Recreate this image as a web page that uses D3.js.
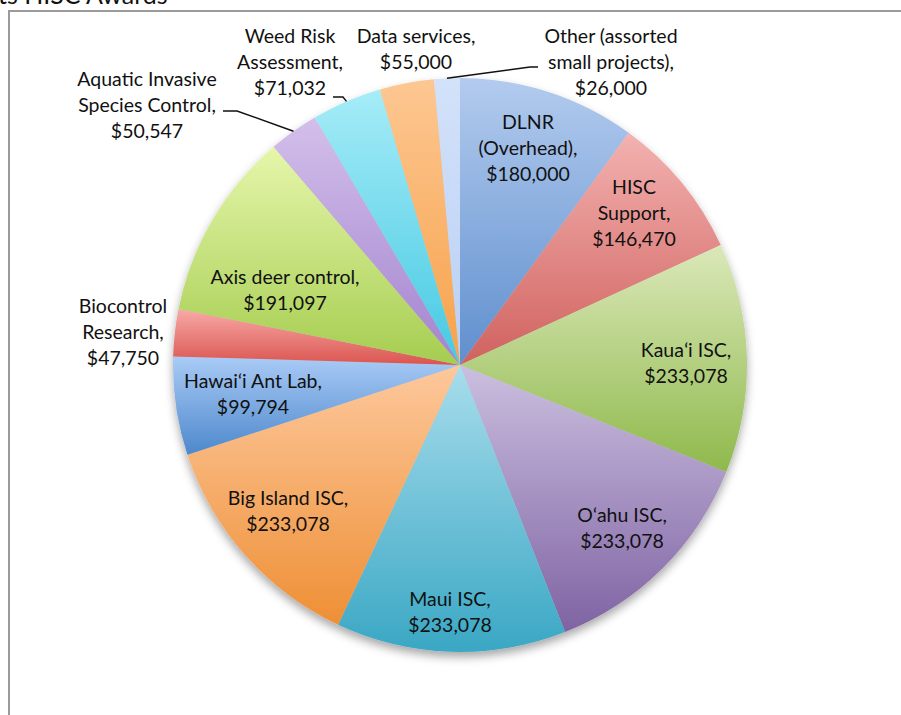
<!DOCTYPE html>
<html lang="en">
<head>
<meta charset="UTF-8">
<title>HISC Awards</title>
<style>
  body { margin: 0; background: #fff; overflow: hidden; }
  svg { display: block; }
  .label { font-family: Lato, "Noto Sans", sans-serif; font-size: 19.5px; fill: #111; }
  .title { font-family: Lato, "Noto Sans", sans-serif; font-size: 25px; fill: #111; }
  .leader { stroke: #111; stroke-width: 1.4; fill: none; }
</style>
</head>
<body>
<svg id="chart" width="901" height="715"></svg>
<script src="https://d3js.org/d3.v7.min.js"></script>
<script>
// slices, clockwise from 12 o'clock
const names = [
  "DLNR (Overhead)", "HISC Support", "Kaua\u02bbi ISC", "O\u02bbahu ISC", "Maui ISC",
  "Big Island ISC", "Hawai\u02bbi Ant Lab", "Biocontrol Research", "Axis deer control",
  "Aquatic Invasive Species Control", "Weed Risk Assessment", "Data services",
  "Other (assorted small projects)"
];
const amounts = [180000, 146470, 233078, 233078, 233078, 233078, 99794, 47750, 191097, 50547, 71032, 55000, 26000];
// label text lines as printed on the chart (last line is the amount)
const labelLines = [
  ["DLNR", "(Overhead),"], ["HISC", "Support,"], ["Kaua\u02bbi ISC,"], ["O\u02bbahu ISC,"], ["Maui ISC,"],
  ["Big Island ISC,"], ["Hawai\u02bbi Ant Lab,"], ["Biocontrol", "Research,"], ["Axis deer control,"],
  ["Aquatic Invasive", "Species Control,"], ["Weed Risk", "Assessment,"], ["Data services,"],
  ["Other (assorted", "small projects),"]
];
const lightColors = ["#b3cbee", "#f3b2b0", "#dbe8b9", "#cbbfdf", "#a8ddec", "#fdc89c", "#aacbf6",
                     "#f8aaa8", "#e6f6ab", "#d3bfea", "#a6ecf8", "#fdc792", "#d3e2fa"];
const darkColors  = ["#5f8fce", "#d0625f", "#8fb94c", "#7f63a3", "#3aa7c4", "#ee8f35", "#4d88cc",
                     "#da5550", "#a5cd50", "#a383cf", "#45c9e2", "#f6a24a", "#b9cff3"];

// label layout: centre x, first line centre y, optional leader [elbowX, elbowY, endX]
const labelPos = [
  {x: 528, y: 122}, {x: 634, y: 187}, {x: 686, y: 350}, {x: 622, y: 515}, {x: 450, y: 599},
  {x: 288, y: 498}, {x: 253, y: 381}, {x: 123, y: 306}, {x: 285, y: 277},
  {x: 147, y: 79, leader: [237, 111, 223]}, {x: 290, y: 36, leader: [343, 97, 333]},
  {x: 416, y: 36}, {x: 611, y: 36, leader: [530, 67, 538]}
];

const W = 901, H = 715;
const cx = 460, cy = 365, R = 287;
const lineH = 26;

const svg = d3.select("#chart");
const defs = svg.append("defs");

const shadow = defs.append("filter").attr("id", "shadow")
  .attr("x", "-10%").attr("y", "-10%").attr("width", "120%").attr("height", "125%");
shadow.append("feDropShadow").attr("dx", 0).attr("dy", 5).attr("stdDeviation", 5)
  .attr("flood-color", "#000").attr("flood-opacity", 0.35);

names.forEach((n, i) => {
  const g = defs.append("linearGradient").attr("id", "grad" + i)
    .attr("x1", 0).attr("y1", 0).attr("x2", 0).attr("y2", 1);
  g.append("stop").attr("offset", "0%").attr("stop-color", lightColors[i]);
  g.append("stop").attr("offset", "100%").attr("stop-color", darkColors[i]);
});

// chart frame
svg.append("rect")
  .attr("x", 9).attr("y", 11).attr("width", W + 20).attr("height", H + 20)
  .attr("fill", "#fff").attr("stroke", "#9a9a9a").attr("stroke-width", 2);

// title (cut by the top edge in the original)
svg.append("text").attr("class", "title")
  .attr("x", -2).attr("y", 4)
  .text("ts HISC Awards");

const data = names.map((n, i) => ({name: n, value: amounts[i], i}));
const pie = d3.pie().value(d => d.value).sort(null);
const arcs = pie(data);
const arc = d3.arc().innerRadius(0).outerRadius(R);
const edgeArc = d3.arc().innerRadius(R).outerRadius(R);

const g = svg.append("g").attr("transform", `translate(${cx},${cy})`);
g.append("g").attr("filter", "url(#shadow)")
  .selectAll("path")
  .data(arcs)
  .enter()
  .append("path")
  .attr("d", arc)
  .attr("fill", d => `url(#grad${d.data.i})`);

const fmt = d3.format("$,");

// leader lines
arcs.forEach(d => {
  const p = labelPos[d.data.i];
  if (!p.leader) return;
  const [ex, ey] = edgeArc.centroid(d);
  const [bx, by, tx] = p.leader;
  svg.append("polyline").attr("class", "leader")
    .attr("points", `${cx + ex},${cy + ey} ${bx},${by} ${tx},${by}`);
});

// labels
arcs.forEach(d => {
  const p = labelPos[d.data.i];
  const lines = labelLines[d.data.i].concat([fmt(d.data.value)]);
  const t = svg.append("text").attr("class", "label").attr("text-anchor", "middle");
  lines.forEach((s, k) => {
    t.append("tspan").attr("x", p.x).attr("y", p.y + k * lineH)
      .attr("dy", "0.35em").text(s);
  });
});
</script>
</body>
</html>
